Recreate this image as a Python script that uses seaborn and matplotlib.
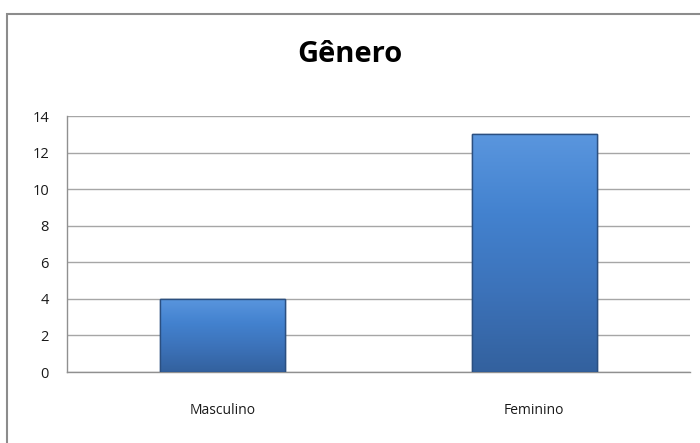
import numpy as np
import pandas as pd
import matplotlib
matplotlib.use("Agg")
import matplotlib.pyplot as plt
import seaborn as sns
from matplotlib.patches import Rectangle
from matplotlib.colors import LinearSegmentedColormap

# Data
generos = ["Masculino", "Feminino"]
contagem = [4, 13]
y_ticks = [0, 2, 4, 6, 8, 10, 12, 14]

df = pd.DataFrame({"genero": generos, "n": contagem})

sns.set_style("white")
plt.rcParams["font.family"] = ["Open Sans", "DejaVu Sans"]

fig = plt.figure(figsize=(7, 4.43), dpi=100)
ax = fig.add_axes([67 / 700, 1 - 372 / 443, 623 / 700, 256 / 443])

sns.barplot(data=df, x="genero", y="n", color="#3f77c0", width=0.4,
            edgecolor="#2b4f80", linewidth=1.0, ax=ax, zorder=3)

# vertical gradient on each bar
grad = LinearSegmentedColormap.from_list("bar", ["#5a96de", "#4382cf", "#3c72b9", "#33619e"])
g = np.linspace(0, 1, 256).reshape(-1, 1)
for p in ax.patches:
    x0, y0 = p.get_x(), p.get_y()
    w, h = p.get_width(), p.get_height()
    im = ax.imshow(g, cmap=grad, aspect="auto", origin="upper",
                   extent=[x0, x0 + w, y0, y0 + h], zorder=3.5)
    im.set_clip_path(p)
    ax.add_patch(Rectangle((x0, y0), w, h, fill=False, edgecolor="#2b4f80",
                           linewidth=1.0, zorder=4))

ax.set_xlim(-0.5, 1.5)
ax.set_ylim(0, 14)
ax.set_yticks(y_ticks)
ax.set_yticklabels([str(t) for t in y_ticks], fontsize=10.5, color="#1a1a1a")
ax.set_xticks([0, 1])
ax.set_xticklabels(generos, fontsize=10, color="#1a1a1a")
ax.set_xticks([-0.5, 0.5, 1.5], minor=True)
ax.tick_params(axis="x", which="major", length=0, pad=22)
ax.tick_params(axis="x", which="minor", length=5, color="#909090", direction="out")
ax.tick_params(axis="y", length=5, color="#909090", direction="out", pad=8)
ax.set_xlabel("")
ax.set_ylabel("")

ax.yaxis.grid(True, color="#a6a6a6", linewidth=1.0, zorder=0)
ax.set_axisbelow(True)
for s in ["top", "right"]:
    ax.spines[s].set_visible(False)
for s in ["left", "bottom"]:
    ax.spines[s].set_color("#909090")
    ax.spines[s].set_linewidth(1.0)

fig.text(0.5, 1 - 55 / 443, "Gênero", ha="center", va="center",
         fontsize=21, fontweight="bold", color="#000000")

# outer chart border
fig.patches.append(Rectangle((7 / 700, -0.1), 1.2, 1 - 14 / 443 + 0.1,
                             transform=fig.transFigure, fill=False,
                             edgecolor="#8c8c8c", linewidth=1.5))

fig.savefig("out.png", dpi=100)
